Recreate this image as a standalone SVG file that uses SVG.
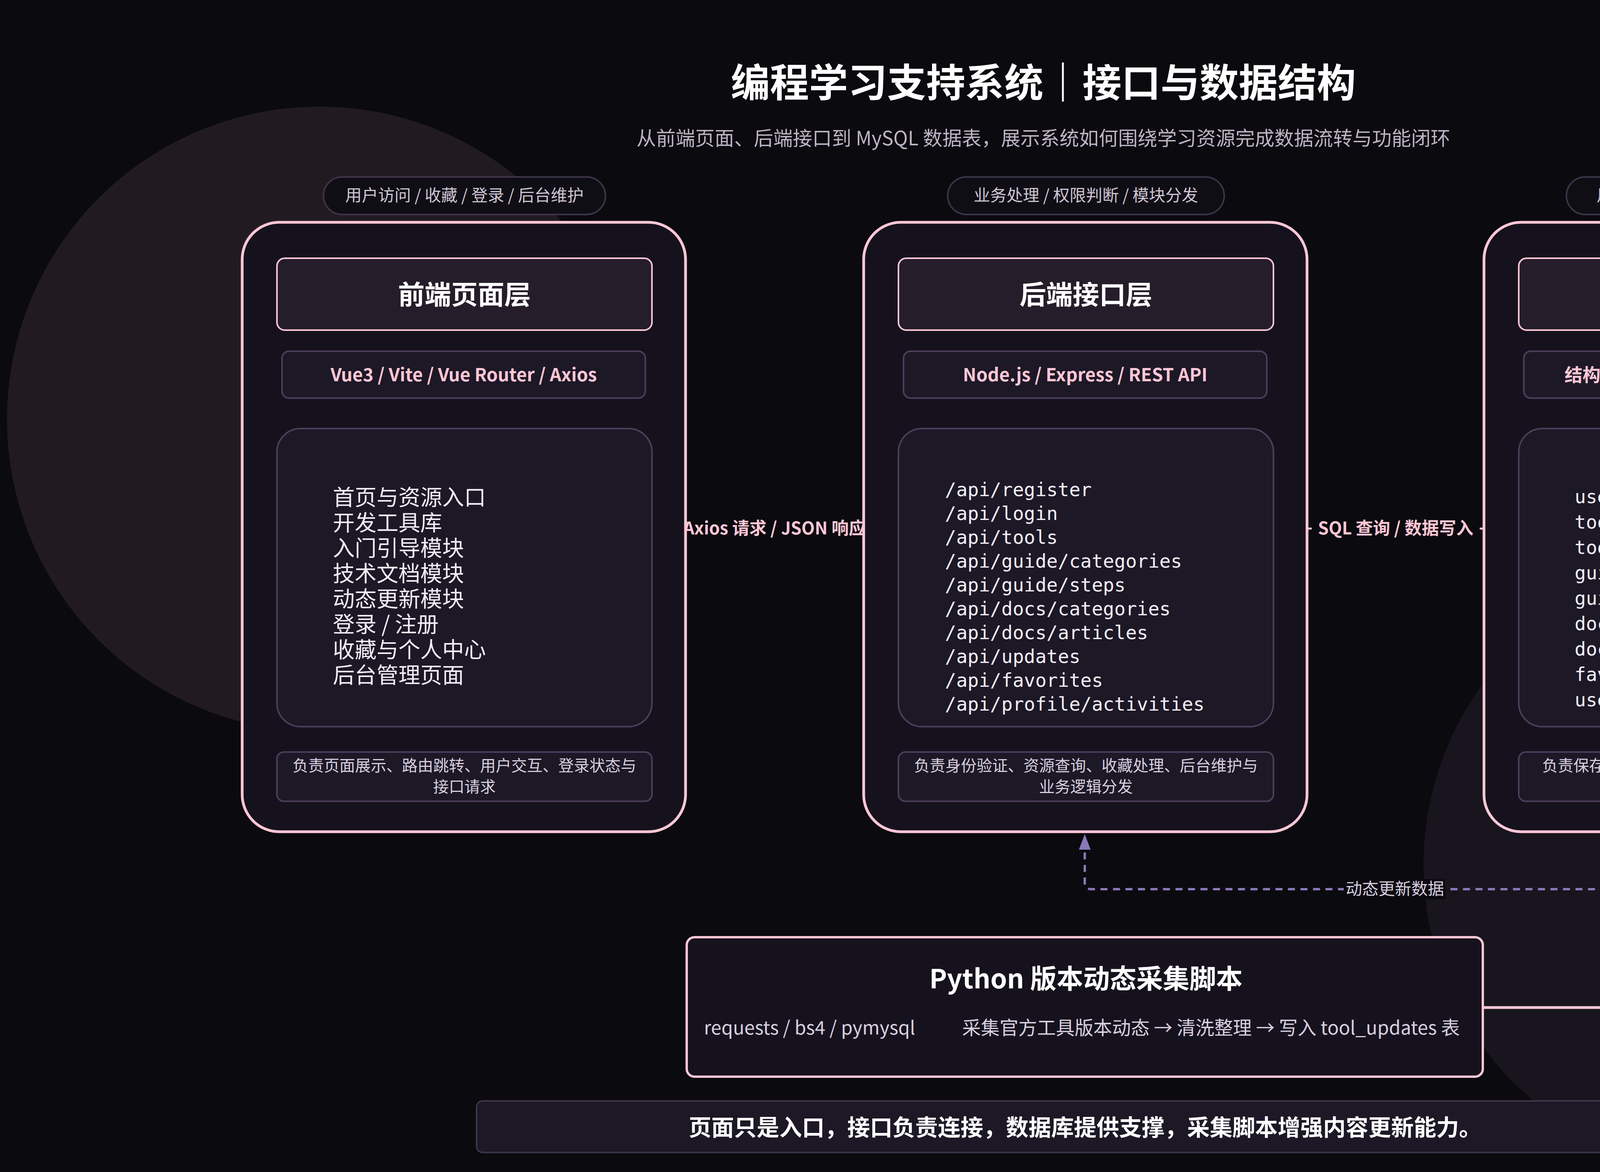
<svg xmlns="http://www.w3.org/2000/svg" width="5343" height="3000" viewBox="0 0 5343 3000">
<defs>
<style>
text{font-family:"Noto Sans CJK SC","Noto Sans",sans-serif}
.card{fill:#16121d;stroke:#ffc7d6;stroke-width:7}
.head{fill:#261d2a;stroke:#ffc7d6;stroke-width:4}
.sub{fill:#1d1826;stroke:#4a3e5c;stroke-width:4}
.ht{fill:#fff;font-size:68px;font-weight:700;text-anchor:middle}
.tt{fill:#ffc7d6;font-size:46px;font-weight:700;text-anchor:middle}
.dt{fill:#d9cfe0;font-size:40px;text-anchor:middle}
.pill{fill:#100e15;stroke:#3d3448;stroke-width:4}
.pt{fill:#cfc6d6;font-size:42px;text-anchor:middle}
.li{fill:#f2eef6;font-size:56px}
.mono{fill:#f2eef6;font-size:48px;font-family:"DejaVu Sans Mono","Liberation Mono",monospace}
.cl{fill:#ffc7d6;font-size:44px;font-weight:700;text-anchor:middle}
</style>
<marker id="ap" markerWidth="10" markerHeight="10" refX="5" refY="9" orient="auto-start-reverse" markerUnits="userSpaceOnUse" viewBox="0 0 10 10"><path d="M0,10 L5,0 L10,10 Z" fill="#ffc7d6"/></marker>
</defs>
<rect width="5343" height="3000" fill="#0b0a0f"/>
<circle cx="818" cy="1073" r="800" fill="#211b21"/>
<circle cx="4429" cy="2215" r="785" fill="#18151e"/>
<text x="2671" y="248" font-size="100" font-weight="700" fill="#fff" text-anchor="middle">编程学习支持系统｜接口与数据结构</text>
<text x="2671" y="372" font-size="50" fill="#bdb4c6" text-anchor="middle">从前端页面、后端接口到 MySQL 数据表，展示系统如何围绕学习资源完成数据流转与功能闭环</text>

<g id="connectors">
<line x1="1755" y1="1353" x2="2211" y2="1353" stroke="#ffc7d6" stroke-width="5"/>
<rect x="1733" y="1325" width="500" height="58" fill="#0b0a0f"/>
<text class="cl" x="1983" y="1368">Axios 请求 / JSON 响应</text>
<line x1="3346" y1="1353" x2="3799" y2="1353" stroke="#ffc7d6" stroke-width="5"/>
<rect x="3358" y="1325" width="430" height="58" fill="#0b0a0f"/>
<text class="cl" x="3573" y="1368">SQL 查询 / 数据写入</text>
<path d="M2777,2150 V2260 Q2777,2276 2793,2276 H4348 Q4364,2276 4364,2260 V2150" fill="none" stroke="#8a78b8" stroke-width="6" stroke-dasharray="18,14"/>
<path d="M2762,2175 L2777,2135 L2792,2175 Z" fill="#8a78b8"/>
<rect x="3440" y="2250" width="260" height="52" fill="#0b0a0f"/>
<text x="3571" y="2290" font-size="42" fill="#d9cfe0" text-anchor="middle">动态更新数据</text>
<path d="M3796,2579 H4364 V2135" fill="none" stroke="#ffc7d6" stroke-width="7" marker-end="url(#ap)"/>
<rect x="4108" y="2552" width="402" height="60" fill="#0b0a0f"/>
<text x="4309" y="2597" font-size="44" font-weight="700" fill="#ffc7d6" text-anchor="middle">写入 tool_updates</text>
</g>

<g id="frontend">
<rect class="pill" x="828" y="453" width="722" height="96" rx="48"/>
<text class="pt" x="1189" y="515">用户访问 / 收藏 / 登录 / 后台维护</text>
<rect class="card" x="620" y="569" width="1135" height="1560" rx="95"/>
<rect class="head" x="709" y="661" width="960" height="184" rx="20"/>
<text class="ht" x="1189" y="779">前端页面层</text>
<rect class="sub" x="722" y="899" width="930" height="120" rx="18"/>
<text class="tt" x="1187" y="976">Vue3 / Vite / Vue Router / Axios</text>
<rect class="sub" x="709" y="1097" width="960" height="763" rx="60" fill="#121017"/>
<text class="li" x="852" y="1293">首页与资源入口</text>
<text class="li" x="852" y="1358">开发工具库</text>
<text class="li" x="852" y="1423">入门引导模块</text>
<text class="li" x="852" y="1488">技术文档模块</text>
<text class="li" x="852" y="1553">动态更新模块</text>
<text class="li" x="852" y="1618">登录 / 注册</text>
<text class="li" x="852" y="1683">收藏与个人中心</text>
<text class="li" x="852" y="1748">后台管理页面</text>
<rect class="sub" x="709" y="1925" width="960" height="126" rx="18"/>
<text class="dt" x="1189" y="1974">负责页面展示、路由跳转、用户交互、登录状态与</text>
<text class="dt" x="1189" y="2028">接口请求</text>
</g>

<g id="backend">
<rect class="pill" x="2426" y="453" width="708" height="96" rx="48"/>
<text class="pt" x="2780" y="515">业务处理 / 权限判断 / 模块分发</text>
<rect class="card" x="2211" y="569" width="1135" height="1560" rx="95"/>
<rect class="head" x="2300" y="661" width="960" height="184" rx="20"/>
<text class="ht" x="2780" y="779">后端接口层</text>
<rect class="sub" x="2313" y="899" width="930" height="120" rx="18"/>
<text class="tt" x="2778" y="976">Node.js / Express / REST API</text>
<rect class="sub" x="2300" y="1097" width="960" height="763" rx="60" fill="#121017"/>
<text class="mono" x="2419" y="1270">/api/register</text>
<text class="mono" x="2419" y="1331">/api/login</text>
<text class="mono" x="2419" y="1392">/api/tools</text>
<text class="mono" x="2419" y="1453">/api/guide/categories</text>
<text class="mono" x="2419" y="1514">/api/guide/steps</text>
<text class="mono" x="2419" y="1575">/api/docs/categories</text>
<text class="mono" x="2419" y="1636">/api/docs/articles</text>
<text class="mono" x="2419" y="1697">/api/updates</text>
<text class="mono" x="2419" y="1758">/api/favorites</text>
<text class="mono" x="2419" y="1819">/api/profile/activities</text>
<rect class="sub" x="2300" y="1925" width="960" height="126" rx="18"/>
<text class="dt" x="2780" y="1974">负责身份验证、资源查询、收藏处理、后台维护与</text>
<text class="dt" x="2780" y="2028">业务逻辑分发</text>
</g>

<g id="database">
<rect class="pill" x="4010" y="453" width="716" height="96" rx="48"/>
<text class="pt" x="4368" y="515">用户 / 资源 / 文档 / 收藏 / 动态</text>
<rect class="card" x="3799" y="569" width="1138" height="1560" rx="95"/>
<rect class="head" x="3888" y="661" width="960" height="184" rx="20"/>
<text class="ht" x="4368" y="779">MySQL 数据层</text>
<rect class="sub" x="3901" y="899" width="930" height="120" rx="18"/>
<text class="tt" x="4366" y="976">结构化数据表 / 用户行为 / 资源内容</text>
<rect class="sub" x="3888" y="1097" width="960" height="763" rx="60" fill="#121017"/>
<text class="mono" x="4031" y="1288">users</text>
<text class="mono" x="4031" y="1353">tools_library</text>
<text class="mono" x="4031" y="1418">tool_updates</text>
<text class="mono" x="4031" y="1483">guide_categories</text>
<text class="mono" x="4031" y="1548">guide_steps</text>
<text class="mono" x="4031" y="1613">docs_categories</text>
<text class="mono" x="4031" y="1678">docs_articles</text>
<text class="mono" x="4031" y="1743">favorites</text>
<text class="mono" x="4031" y="1808">user_activity</text>
<rect class="sub" x="3888" y="1925" width="960" height="126" rx="18"/>
<text class="dt" x="4368" y="1974">负责保存用户、工具、文档、引导步骤、动态更</text>
<text class="dt" x="4368" y="2028">新、收藏与活动记录</text>
</g>

<g id="python">
<rect x="1758" y="2399" width="2038" height="357" rx="20" fill="#16121d" stroke="#ffc7d6" stroke-width="6"/>
<text class="ht" x="2780" y="2530">Python 版本动态采集脚本</text>
<text x="1802" y="2648" font-size="48" fill="#d9cfe0">requests / bs4 / pymysql</text>
<text x="2463" y="2648" font-size="48" fill="#d9cfe0">采集官方工具版本动态 → 清洗整理 → 写入 tool_updates 表</text>
</g>

<g id="banner">
<rect x="1220" y="2818" width="3117" height="132" rx="16" fill="#1d1826" stroke="#3d3448" stroke-width="4"/>
<text x="2778" y="2907" font-size="58" font-weight="700" fill="#fff" text-anchor="middle">页面只是入口，接口负责连接，数据库提供支撑，采集脚本增强内容更新能力。</text>
</g>
</svg>
